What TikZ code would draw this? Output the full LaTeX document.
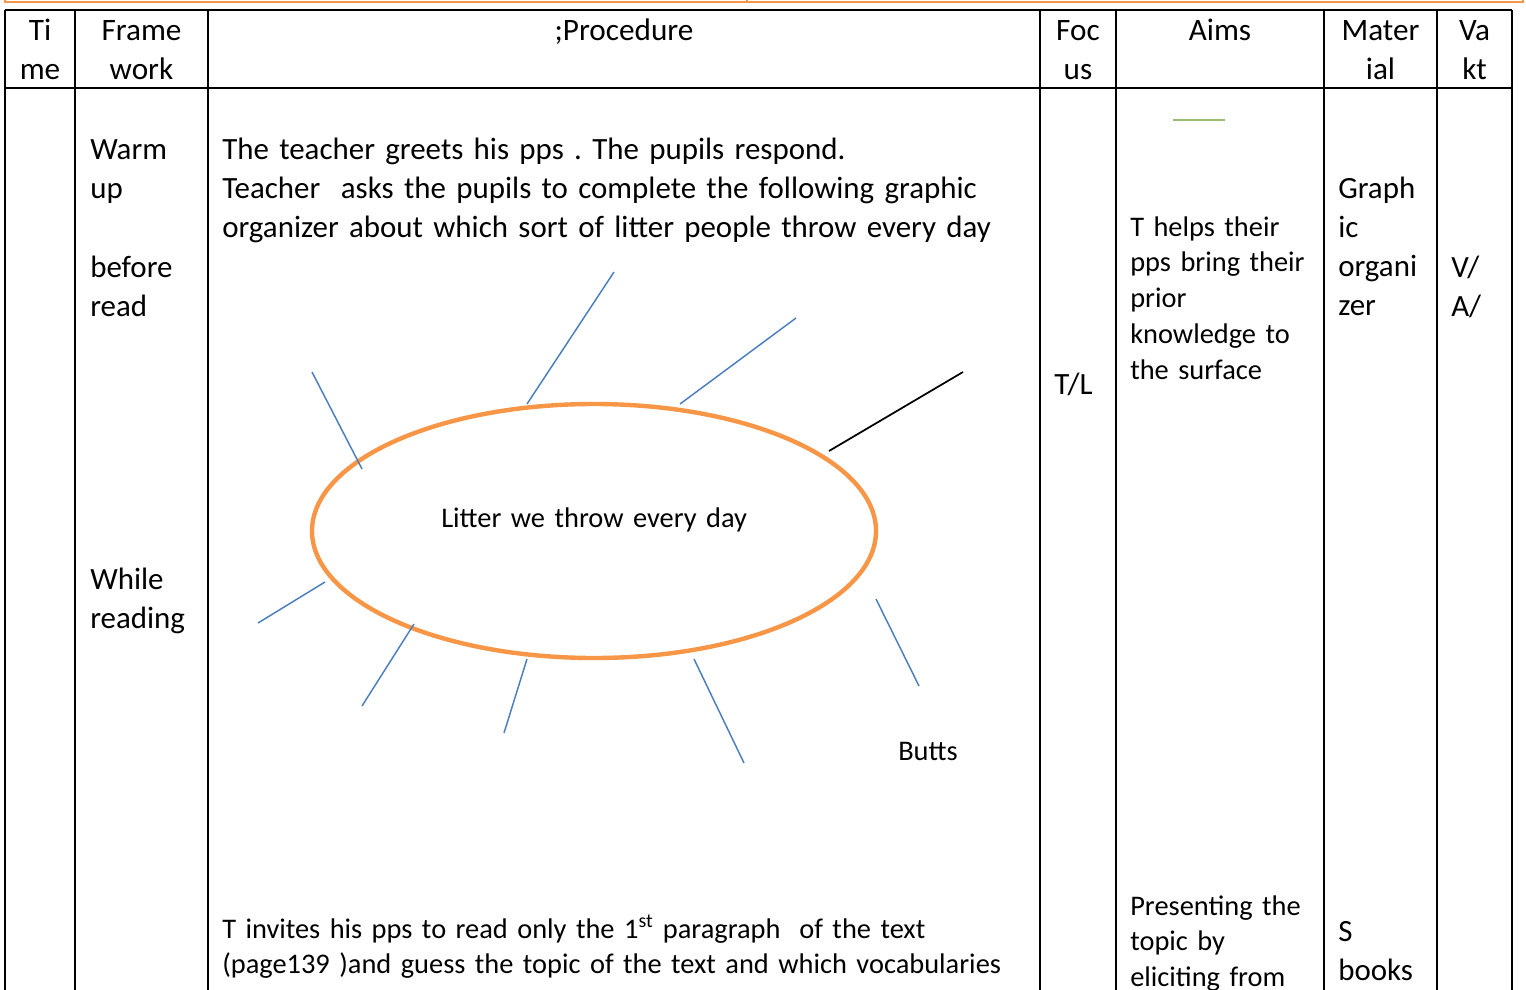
\documentclass[tikz,border=0pt]{standalone}
\usepackage{fontspec}
\setmainfont{Carlito}
\usepackage{tikz}

\definecolor{orangeline}{RGB}{247,150,70}
\definecolor{spokeblue}{RGB}{74,126,193}
\definecolor{greenline}{RGB}{155,190,110}

\begin{document}
\frenchspacing
\begin{tikzpicture}[x=0.75pt,y=0.75pt,yscale=-1,xscale=1,
  rule/.style={line width=1.5pt},
  spoke/.style={color=spokeblue, line width=1.1pt},
  head/.style={anchor=base, inner sep=0pt, text width=160pt, align=center, font=\fontsize{23.4}{29.4}\selectfont},
  cell/.style={anchor=base west, inner sep=0pt, text width=620pt, align=left, font=\fontsize{23.2}{29.4}\selectfont},
  cellsmall/.style={anchor=base west, inner sep=0pt, text width=620pt, align=left, font=\fontsize{21.3}{26.9}\selectfont}]
\useasboundingbox (0,0) rectangle (1526,989);

%Shape: Rectangle (page border above)
\draw [color=orangeline, line width=2.2pt] (5,-30) rectangle (1523,2) ;
\draw [color=orangeline, line width=2.2pt] (747,-5) -- (747,3) ;

%Shape: Table grid
\draw [rule] (5,10) -- (1512,10) (5,88) -- (1512,88) ;
\draw [rule] (5,10) -- (5,995) (75,10) -- (75,995) (208,10) -- (208,995) (1040,10) -- (1040,995) ;
\draw [rule] (1116,10) -- (1116,995) (1324,10) -- (1324,995) (1437,10) -- (1437,995) (1512,10) -- (1512,995) ;

%Straight Lines
\draw [color=greenline, line width=1.3pt] (1173,120) -- (1225,120) ;

%Shape: Ellipse
\draw [color=orangeline, line width=3.3pt] (594,531) ellipse (282 and 127) ;

%Straight Lines
\draw [spoke] (312,372) -- (362,469) ;
%Straight Lines
\draw [spoke] (614,272) -- (527,404) ;
%Straight Lines
\draw [spoke] (796,318) -- (680,404) ;
%Straight Lines
\draw [line width=1.3pt] (963,372) -- (829,451) ;
%Straight Lines
\draw [spoke] (325,582) -- (258,623) ;
%Straight Lines
\draw [spoke] (414,624) -- (362,706) ;
%Straight Lines
\draw [spoke] (527,659) -- (504,733) ;
%Straight Lines
\draw [spoke] (694,659) -- (744,763) ;
%Straight Lines
\draw [spoke] (876,599) -- (919,686) ;

% Text Node
\draw (40,40) node [head] (time) {Ti\\me};
% Text Node
\draw (141.5,40) node [head] (frame) {Frame\\work};
% Text Node
\draw (624,40) node [head] (proc) {;Procedure};
% Text Node
\draw (1078,40) node [head] (foc) {Foc\\us};
% Text Node
\draw (1220,40) node [head] (aims) {Aims};
% Text Node
\draw (1380.5,40) node [head] (mater) {Mater\\ial};
% Text Node
\draw (1474.5,40) node [head] (vakt) {Va\\kt};

% Text Node
\draw (90,159) node [cell] (warm) {Warm\\up};
% Text Node
\draw (90,277) node [cell] (before) {before\\read};
% Text Node
\draw (90,589) node [cell] (while) {While\\reading};
% Text Node
\draw (222,159) node [cell] (greet) {The teacher greets his pps . The pupils respond.\\Teacher\ \ asks the pupils to complete the following graphic\\organizer about which sort of litter people throw every day};
% Text Node
\draw (441,527) node [cellsmall] (litter) {Litter we throw every day};
% Text Node
\draw (898,760) node [cellsmall] (butts) {Butts};
% Text Node
\draw (222,938) node [cellsmall] (invite) {T invites his pps to read only the 1\textsuperscript{st} paragraph\ \ of the text\\(page139 )and guess the topic of the text and which vocabularies};
% Text Node
\draw (1054,394) node [cell] (tl) {T/L};
% Text Node
\draw (1130,236) node [cellsmall] (helps) {T helps their\\pps bring their\\prior\\knowledge to\\the surface};
% Text Node
\draw (1130,915) node [cellsmall] (present) {Presenting the\\topic by\\eliciting from};
% Text Node
\draw (1338,198) node [cell] (graphic) {Graph\\ic\\organi\\zer};
% Text Node
\draw (1338,941) node [cell] (books) {S\\books};
% Text Node
\draw (1451,277) node [cell] (va) {V/\\A/};

\end{tikzpicture}
\end{document}
